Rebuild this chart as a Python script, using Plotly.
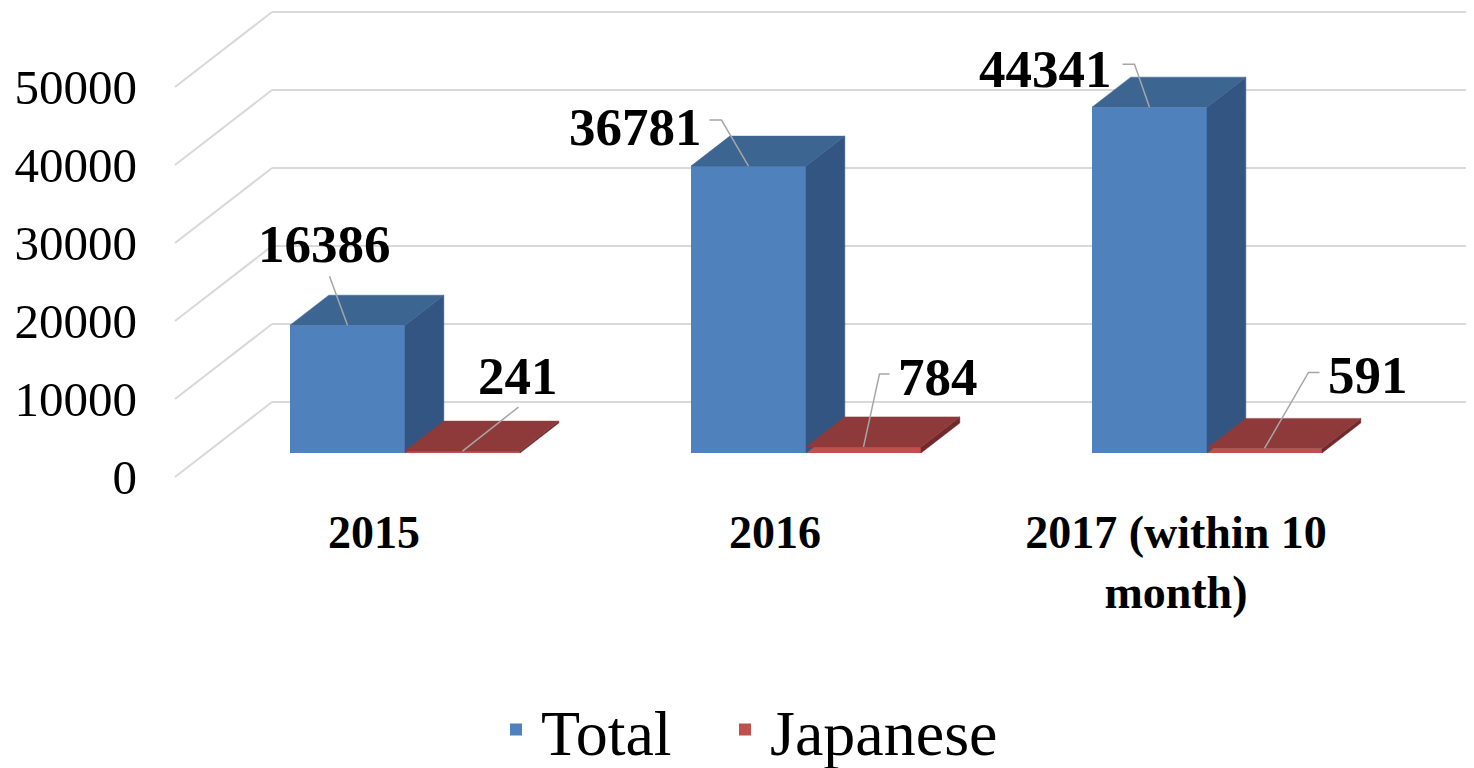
import plotly.graph_objects as go

# ---------------- data ----------------
categories = ["2015", "2016", "2017 (within 10<br>month)"]
total = [16386, 36781, 44341]
japanese = [241, 784, 591]
y_ticks = [0, 10000, 20000, 30000, 40000, 50000]
series_names = ["Total", "Japanese"]

# ---------------- geometry / style (page pixels) ----------------
PAGE_OFF = 8                       # default body margin of the html page
FIG_W, FIG_H = 1474, 768
L, R, T, B = 170, 1482, 8, 490     # plot area in page pixels
Y0_PX = 477        # pixel row of value 0 on the front plane
KY = 0.0078        # pixels per value unit
CAT_PX = 401       # pixels between category groups
X0_PX = 405        # pixel column of first group centre
BAR_PX = 115       # bar width in pixels
WALL_DX, WALL_DY = 97, 75   # full depth of the box in pixels
D0, D1 = 0.32, 0.72         # bar front / back depth fractions
WALL_LEFT_PX = 175
LEGEND_LEFT = {"Total": 491, "Japanese": 720}
LEGEND_CY = 730

ux = 1.0 / CAT_PX
uy = 1.0 / KY
x_range = [(L - X0_PX) * ux, (R - X0_PX) * ux]
y_range = [-(B - Y0_PX) * uy, (Y0_PX - T) * uy]
DXu, DYu = WALL_DX * ux, WALL_DY * uy
w = BAR_PX * ux
wall_x = (WALL_LEFT_PX - X0_PX) * ux

colors = {
    "Total": {"front": "#4F81BD", "top": "#3D6591", "side": "#335582"},
    "Japanese": {"front": "#C0504D", "top": "#8F3A3A", "side": "#73292A"},
}


def proj(x3, v, d):
    return x3 + d * DXu, v + d * DYu


fig = go.Figure()

# gridlines (walls) as shapes below traces
shapes = []
grid_col = "#D9D9D9"
for t in y_ticks:
    xa, ya = proj(wall_x, t, 0)
    xb, yb = proj(wall_x, t, 1)
    shapes.append(dict(type="line", xref="x", yref="y", x0=xa, y0=ya, x1=xb, y1=yb,
                       line=dict(color=grid_col, width=2), layer="below"))
    shapes.append(dict(type="line", xref="x", yref="y", x0=xb, y0=yb, x1=x_range[1], y1=yb,
                       line=dict(color=grid_col, width=2), layer="below"))

idx = list(range(len(categories)))
series_vals = {"Total": total, "Japanese": japanese}

# front faces as bars
for s in series_names:
    sign = -1 if s == "Total" else 1
    fig.add_trace(go.Bar(
        x=[i + sign * w / 2 for i in idx],
        y=series_vals[s],
        base=[D0 * DYu] * len(idx),
        width=w,
        name=s,
        legend="legend" if s == "Total" else "legend2",
        marker=dict(color=colors[s]["front"], line=dict(width=0)),
        hoverinfo="skip",
    ))

# top & side faces
for i in idx:
    g = i - D0 * DXu
    for s in series_names:
        v = series_vals[s][i]
        xl, xr = (g - w, g) if s == "Total" else (g, g + w)
        top = [proj(xl, v, D0), proj(xr, v, D0), proj(xr, v, D1), proj(xl, v, D1), proj(xl, v, D0)]
        side = [proj(xr, 0, D0), proj(xr, v, D0), proj(xr, v, D1), proj(xr, 0, D1), proj(xr, 0, D0)]
        for pts, face in ((side, "side"), (top, "top")):
            fig.add_trace(go.Scatter(
                x=[p[0] for p in pts], y=[p[1] for p in pts],
                mode="lines", fill="toself",
                fillcolor=colors[s][face],
                line=dict(color=colors[s][face], width=0.5),
                showlegend=False, hoverinfo="skip",
            ))

# data labels: text offset and leader-line path, in pixels relative to bar's front-top centre
label_text_offsets = {
    ("Total", 0): (-23, -81), ("Japanese", 0): (55, -75),
    ("Total", 1): (-113, -39), ("Japanese", 1): (74, -70),
    ("Total", 2): (-104, -38), ("Japanese", 2): (103, -73),
}
leader_paths = {
    ("Total", 0): [(-18, -49), (0, 0)],
    ("Japanese", 0): [(56, -44), (0, 0)],
    ("Total", 1): [(-39, -46), (-27, -46), (0, 0)],
    ("Japanese", 1): [(26, -73), (16, -73), (0, 0)],
    ("Total", 2): [(-27, -43), (-15, -43), (0, 0)],
    ("Japanese", 2): [(55, -76), (44, -76), (0, 0)],
}
annotations = []
for s in series_names:
    sign = -1 if s == "Total" else 1
    for i in idx:
        v = series_vals[s][i]
        axp, ayp = i + sign * w / 2, v + D0 * DYu
        path = leader_paths[(s, i)]
        fig.add_trace(go.Scatter(
            x=[axp + dx * ux for dx, dy in path],
            y=[ayp - dy * uy for dx, dy in path],
            mode="lines", line=dict(color="#A6A6A6", width=1.5),
            showlegend=False, hoverinfo="skip",
        ))
        tx, ty = label_text_offsets[(s, i)]
        annotations.append(dict(
            x=axp, y=ayp, xref="x", yref="y", xshift=tx, yshift=-ty,
            text=f"<b>{v}</b>", showarrow=False,
            xanchor="center", yanchor="middle",
            font=dict(family="Liberation Serif", size=53, color="#000000"),
        ))

plot_w, plot_h = R - L, B - T
legend_y = -(LEGEND_CY - B) / plot_h
legend_common = dict(orientation="h", xanchor="left", y=legend_y, yanchor="middle",
                     font=dict(family="Liberation Serif", size=64, color="#000000"),
                     itemwidth=40, bgcolor="rgba(0,0,0,0)")

fig.update_layout(
    width=FIG_W, height=FIG_H,
    margin=dict(l=L - PAGE_OFF, r=FIG_W - (R - PAGE_OFF), t=T - PAGE_OFF,
                b=FIG_H - (B - PAGE_OFF), autoexpand=False),
    paper_bgcolor="white", plot_bgcolor="white",
    barmode="overlay",
    shapes=shapes,
    annotations=annotations,
    font=dict(family="Liberation Serif", color="#000000"),
    showlegend=True,
    legend=dict(x=(LEGEND_LEFT["Total"] - L) / plot_w, **legend_common),
    legend2=dict(x=(LEGEND_LEFT["Japanese"] - L) / plot_w, **legend_common),
    xaxis=dict(range=x_range, showgrid=False, zeroline=False, showline=False,
               tickmode="array", tickvals=[i - D0 * DXu for i in idx],
               ticktext=[f"<b>{c}</b>" for c in categories], ticks="",
               ticklabelstandoff=11,
               tickfont=dict(family="Liberation Serif", size=46, color="#000000"),
               fixedrange=True),
    yaxis=dict(range=y_range, showgrid=False, zeroline=False, showline=False,
               tickmode="array", tickvals=y_ticks, ticktext=[str(t) for t in y_ticks],
               ticks="", ticklabelstandoff=32,
               tickfont=dict(family="Liberation Serif", size=49, color="#000000"),
               fixedrange=True),
)

fig.write_html("out.html")
